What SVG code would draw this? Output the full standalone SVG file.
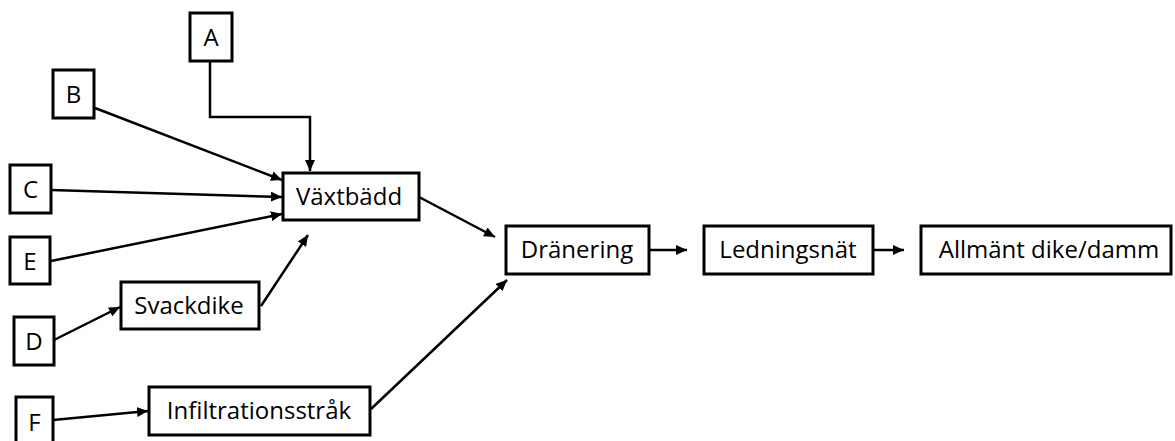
<svg xmlns="http://www.w3.org/2000/svg" width="1175" height="441" viewBox="0 0 1175 441">
<style>
.box{fill:#fff;stroke:#000;stroke-width:3}
.lbl{font-family:"Open Sans","Liberation Sans",sans-serif;font-size:24px;fill:#000;text-anchor:middle}
.con{fill:none;stroke:#000;stroke-width:2.5}
</style>
<defs>
<marker id="ah" markerUnits="userSpaceOnUse" markerWidth="12" markerHeight="10" refX="11" refY="5" orient="auto">
<path d="M0,0 L11,5 L0,10 z" fill="#000"/>
</marker>
</defs>
<rect width="1175" height="441" fill="#fff"/>
<g id="connectors">
<path class="con" d="M210,61 V117 H310 V171" marker-end="url(#ah)"/>
<line class="con" x1="95" y1="108" x2="282" y2="180" marker-end="url(#ah)"/>
<line class="con" x1="51" y1="190" x2="282" y2="197" marker-end="url(#ah)"/>
<line class="con" x1="51" y1="261" x2="282" y2="214" marker-end="url(#ah)"/>
<line class="con" x1="54" y1="340" x2="120" y2="307" marker-end="url(#ah)"/>
<line class="con" x1="261" y1="306" x2="308" y2="235" marker-end="url(#ah)"/>
<line class="con" x1="53" y1="420" x2="148" y2="411" marker-end="url(#ah)"/>
<line class="con" x1="371" y1="409" x2="507" y2="280" marker-end="url(#ah)"/>
<line class="con" x1="419" y1="197" x2="495" y2="237" marker-end="url(#ah)"/>
<line class="con" x1="649" y1="250" x2="687" y2="250" marker-end="url(#ah)"/>
<line class="con" x1="873" y1="250" x2="904" y2="250" marker-end="url(#ah)"/>
</g>
<g id="A"><rect class="box" x="190" y="13" width="42" height="48"/><text class="lbl" x="211" y="46">A</text></g>
<g id="B"><rect class="box" x="53" y="70" width="41" height="48"/><text class="lbl" x="73.5" y="103">B</text></g>
<g id="C"><rect class="box" x="10" y="165" width="41" height="48"/><text class="lbl" x="30.5" y="198">C</text></g>
<g id="E"><rect class="box" x="10" y="237" width="40" height="47"/><text class="lbl" x="30" y="270">E</text></g>
<g id="D"><rect class="box" x="14" y="317" width="40" height="48"/><text class="lbl" x="34" y="350">D</text></g>
<g id="F"><rect class="box" x="16" y="397" width="37" height="50"/><text class="lbl" x="34.5" y="431">F</text></g>
<g id="Vaxtbadd"><rect class="box" x="283" y="173" width="136" height="47"/><text class="lbl" x="349" y="205">Växtbädd</text></g>
<g id="Svackdike"><rect class="box" x="121" y="282" width="138" height="47"/><text class="lbl" x="189" y="314">Svackdike</text></g>
<g id="Infiltrationsstrak"><rect class="box" x="149" y="387" width="221" height="48"/><text class="lbl" x="259" y="419">Infiltrationsstråk</text></g>
<g id="Dranering"><rect class="box" x="506" y="226" width="143" height="48"/><text class="lbl" x="577" y="258">Dränering</text></g>
<g id="Ledningsnat"><rect class="box" x="704" y="226" width="169" height="48"/><text class="lbl" x="788" y="258">Ledningsnät</text></g>
<g id="Allmant"><rect class="box" x="921" y="226" width="250" height="48"/><text class="lbl" x="1049" y="258">Allmänt dike/damm</text></g>
</svg>
